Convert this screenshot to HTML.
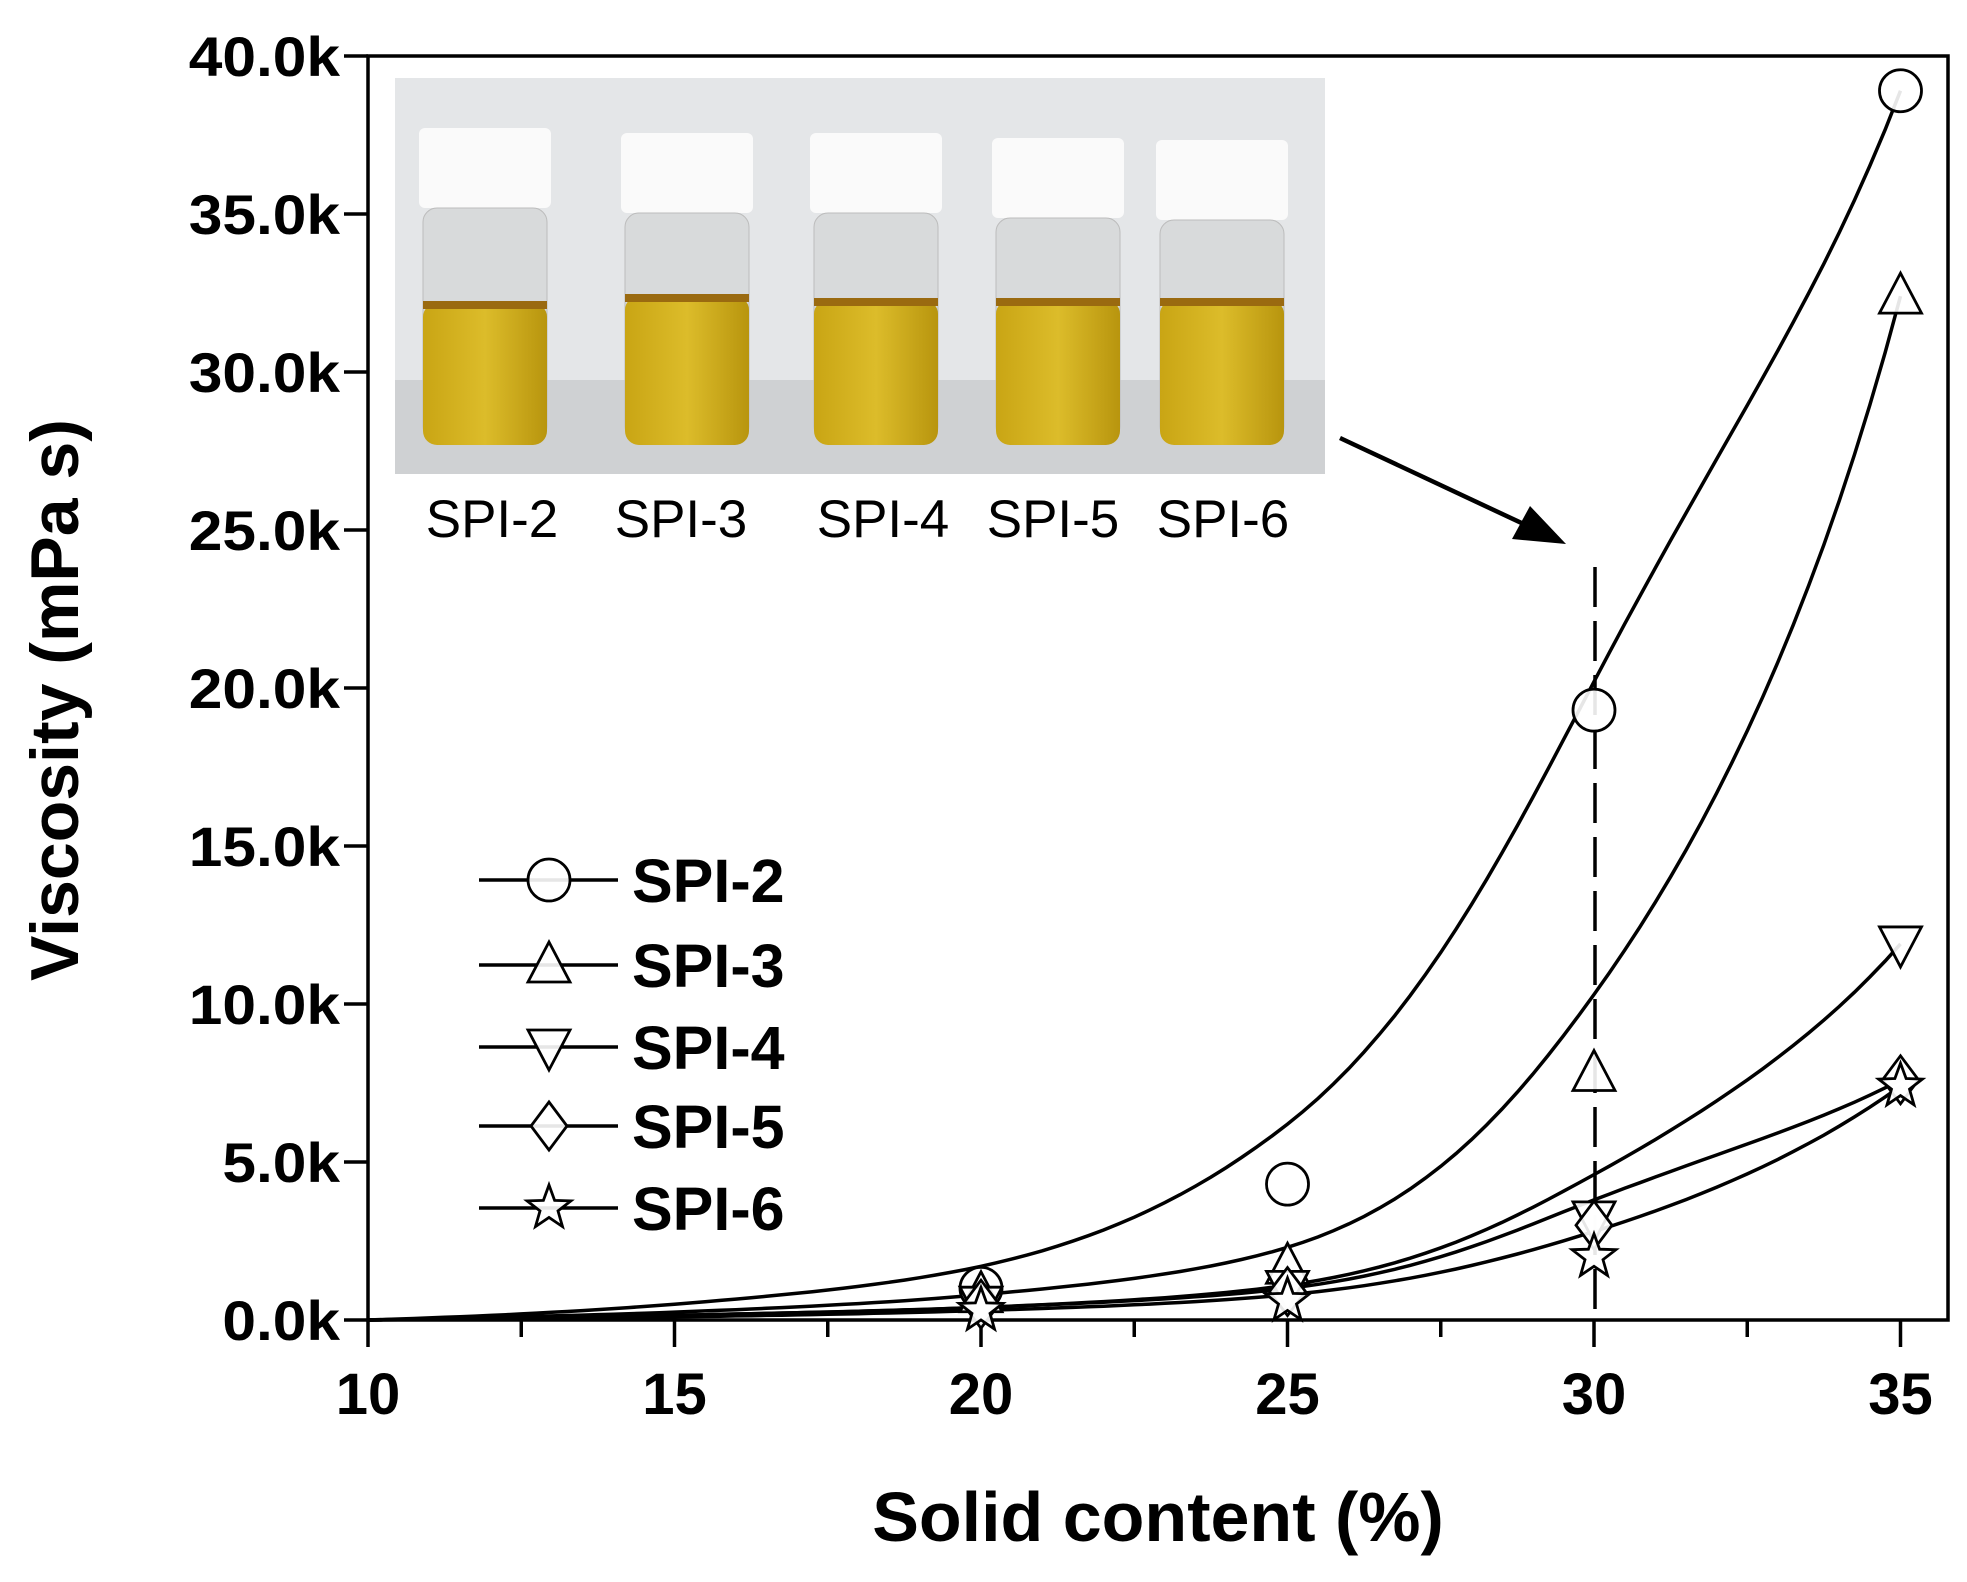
<!DOCTYPE html>
<html><head><meta charset="utf-8"><style>
body{margin:0;background:#fff}
svg{display:block}
text{font-family:"Liberation Sans",Arial,sans-serif}
</style></head><body>
<svg id="s" width="1967" height="1582" viewBox="0 0 1967 1582" xmlns="http://www.w3.org/2000/svg">
<defs>
<linearGradient id="liq" x1="0" x2="1" y1="0" y2="0">
<stop offset="0" stop-color="#c9a514"/><stop offset="0.5" stop-color="#dcbc2a"/><stop offset="1" stop-color="#b8950e"/>
</linearGradient>
</defs>
<rect x="395" y="78" width="930" height="396" fill="#e4e6e8"/>
<rect x="395" y="380" width="930" height="94" fill="#cfd1d3"/>
<g id="vials"></g>
<g font-size="53" text-anchor="middle" fill="#000">
<text x="492" y="537">SPI-2</text><text x="681" y="537">SPI-3</text><text x="883" y="537">SPI-4</text><text x="1053" y="537">SPI-5</text><text x="1223" y="537">SPI-6</text>
</g>
<g id="plot"></g>
</svg>
<script>
const X=v=>368+(v-10)*61.3, Y=v=>1320-v*31.6;
const s=document.getElementById('plot'), vg=document.getElementById('vials');
let h='';
[[485,138,333],[687,143,326],[876,143,330],[1058,148,330],[1222,150,330]].forEach(([cx,top,liq])=>{
 vg.innerHTML+=`<rect x="${cx-66}" y="${top-10}" width="132" height="80" rx="6" fill="#fafafa"/>
 <rect x="${cx-62}" y="${top+70}" width="124" height="${440-top-70}" rx="14" fill="#d8dadb" stroke="#bcbcbc"/>
 <rect x="${cx-62}" y="${liq-30}" width="124" height="${445-liq+30}" rx="14" fill="url(#liq)"/>
 <rect x="${cx-62}" y="${liq-32}" width="124" height="8" fill="#9a6a10"/>`;
});
h+=`<rect x="368" y="56" width="1580" height="1264" fill="none" stroke="#000" stroke-width="3.5"/>`;
for(let k=0;k<=40;k+=5){h+=`<line x1="344" x2="368" y1="${Y(k)}" y2="${Y(k)}" stroke="#000" stroke-width="3.5"/>
<text transform="translate(340 ${Y(k)+20}) scale(1.08 1)" font-size="56" font-weight="bold" text-anchor="end">${k.toFixed(1)}k</text>`;}
for(let v=10;v<=35;v+=2.5){const maj=v%5==0;h+=`<line x1="${X(v)}" x2="${X(v)}" y1="1320" y2="${maj?1347:1337}" stroke="#000" stroke-width="3.5"/>`;
 if(maj)h+=`<text x="${X(v)}" y="1414" font-size="58" font-weight="bold" text-anchor="middle">${v}</text>`;}
h+=`<text x="1158" y="1541" font-size="70" font-weight="bold" text-anchor="middle">Solid content (%)</text>`;
h+=`<text transform="translate(78 700) rotate(-90)" font-size="68" font-weight="bold" text-anchor="middle">Viscosity (mPa s)</text>`;
h+=`<line x1="1595" x2="1595" y1="567" y2="1320" stroke="#000" stroke-width="3.5" stroke-dasharray="40 14"/>`;
h+=`<line x1="1340" y1="438" x2="1530" y2="527" stroke="#000" stroke-width="4.5"/><polygon points="1566,544 1512,539 1530,506" fill="#000"/>`;
const curves=[[0,0.5,1.7,6.2,20.2,38.9],[0,0.25,0.8,2.3,10.3,32.4],[0,0.15,0.4,1.1,4.6,11.9],[0,0.15,0.4,1.0,3.8,7.6],[0,0.1,0.3,0.8,2.8,7.4]];
const off=0.3;
curves.forEach(c0=>{const c=c0.map(v=>Math.log(v+off));const c5=c.concat([2*c[5]-c[4]]);const cm=[2*c[0]-c[1]].concat(c5);
 let pts=[];for(let i=0;i<5;i++){const p0=cm[i],p1=cm[i+1],p2=cm[i+2],p3=cm[i+3];
 for(let t=0;t<1;t+=0.05){const t2=t*t,t3=t2*t;const lv=0.5*((2*p1)+(-p0+p2)*t+(2*p0-5*p1+4*p2-p3)*t2+(-p0+3*p1-3*p2+p3)*t3);const v=Math.exp(lv)-off;pts.push(X(10+5*(i+t)).toFixed(1)+','+Y(Math.max(v,0)).toFixed(1));}}
 pts.push(X(35)+','+Y(c0[5]));h+=`<polyline points="${pts.join(' ')}" fill="none" stroke="#000" stroke-width="3.5"/>`;});
const R=21;
function mk(t,x,y){const st='fill="#fff" fill-opacity="0.9" stroke="#000" stroke-width="2.8"';
 if(t==0)return `<circle cx="${x}" cy="${y}" r="${R}" ${st}/>`;
 if(t==1)return `<polygon points="${x},${y-R-2} ${x+R},${y+R-4} ${x-R},${y+R-4}" ${st}/>`;
 if(t==2)return `<polygon points="${x},${y+R+2} ${x+R},${y-R+4} ${x-R},${y-R+4}" ${st}/>`;
 if(t==3)return `<polygon points="${x},${y-R-3} ${x+R-3},${y} ${x},${y+R+3} ${x-R+3},${y}" ${st}/>`;
 let p=[];for(let i=0;i<10;i++){const r=i%2?R*0.45:R+2,a=-Math.PI/2+i*Math.PI/5;p.push((x+r*Math.cos(a)).toFixed(1)+','+(y+r*Math.sin(a)).toFixed(1));}
 return `<polygon points="${p.join(' ')}" ${st}/>`;}
const data=[[1.0,4.3,19.3,38.9],[0.8,1.7,7.8,32.4],[0.5,1.0,3.2,11.9],[0.5,0.9,3.0,7.6],[0.3,0.6,2.0,7.4]];
data.forEach((d,t)=>{[20,25,30,35].forEach((x,i)=>h+=mk(t,X(x),Y(d[i])));});
[880,965,1047,1126,1208].forEach((y,t)=>{h+=`<line x1="479" x2="618" y1="${y}" y2="${y}" stroke="#000" stroke-width="3.5"/>`+mk(t,549,y)+
 `<text x="632" y="${y+22}" font-size="61" font-weight="bold">SPI-${t+2}</text>`;});
s.innerHTML=h;
</script>
</body></html>
